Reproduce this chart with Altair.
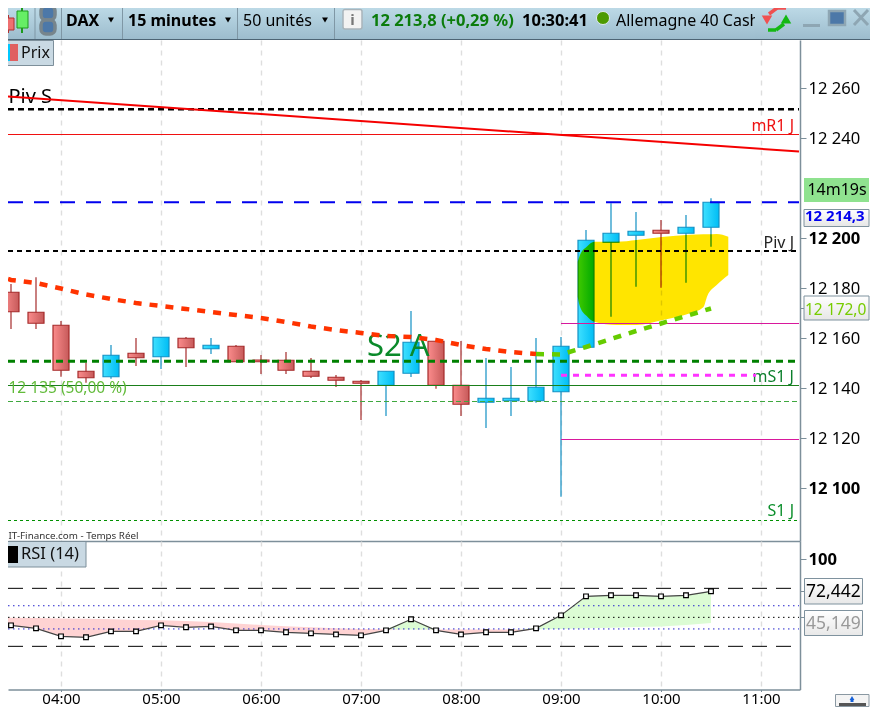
import altair as alt
import pandas as pd

FONT = "Noto Sans"

# ---- price panel data -------------------------------------------------
times = [3.5, 3.75, 4.0, 4.25, 4.5, 4.75, 5.0, 5.25, 5.5, 5.75, 6.0, 6.25, 6.5, 6.75, 7.0,
         7.25, 7.5, 7.75, 8.0, 8.25, 8.5, 8.75, 9.0, 9.25, 9.5, 9.75, 10.0, 10.25, 10.5]
body_top = [12178.3, 12170.3, 12165.1, 12146.7, 12153.1, 12153.9, 12160.3, 12159.9, 12157.1, 12156.7,
            12151.2, 12151.1, 12146.7, 12144.3, 12142.7, 12146.7, 12158.3, 12158.7, 12141.1, 12135.9,
            12135.9, 12140.3, 12156.7, 12199.1, 12201.9, 12202.7, 12203.1, 12204.3, 12214.3]
body_bot = [12170.5, 12165.9, 12147.1, 12144.1, 12144.5, 12152.1, 12152.5, 12156.1, 12155.7, 12150.5,
            12150.5, 12147.1, 12144.7, 12143.1, 12141.9, 12141.1, 12145.9, 12141.1, 12133.5, 12134.3,
            12134.9, 12134.9, 12138.5, 12156.3, 12198.3, 12201.1, 12201.9, 12201.9, 12204.3]
wick_high = [12181.6, 12184.3, 12166.8, 12150.1, 12157.2, 12160.0, 12160.3, 12160.4, 12160.0, 12157.2,
             12153.2, 12154.4, 12152.0, 12145.2, 12143.2, 12146.7, 12170.8, 12158.7, 12158.8, 12152.0,
             12148.4, 12160.0, 12160.4, 12203.2, 12213.9, 12210.4, 12207.2, 12209.2, 12215.9]
wick_low = [12163.6, 12163.6, 12144.5, 12142.1, 12143.7, 12148.8, 12147.6, 12148.4, 12153.6, 12150.5,
            12145.6, 12145.6, 12144.0, 12140.4, 12127.2, 12128.8, 12144.4, 12139.7, 12128.8, 12124.0,
            12128.8, 12134.1, 12096.5, 12156.3, 12168.5, 12180.5, 12180.1, 12182.1, 12196.5]
direction = ["d", "d", "d", "d", "u", "d", "u", "d", "u", "d", "d", "d", "d", "d", "d",
             "u", "u", "d", "d", "u", "u", "u", "u", "u", "u", "u", "d", "u", "u"]

ma_red_t = [3.47, 3.5, 3.75, 4.0, 4.25, 4.5, 4.75, 5.0, 5.25, 5.5, 5.75, 6.0, 6.25, 6.5, 6.75, 7.0,
            7.25, 7.5, 7.75, 8.0, 8.25, 8.5, 8.75]
ma_red_v = [12183.6, 12183.2, 12182.0, 12179.8, 12177.4, 12175.6, 12174.0, 12172.8, 12171.6, 12170.4,
            12169.2, 12168.0, 12166.4, 12164.6, 12163.2, 12162.0, 12160.8, 12160.4, 12159.2, 12157.2,
            12155.6, 12154.4, 12153.6]
ma_green_t = [8.75, 9.0, 9.25, 9.5, 9.75, 10.0, 10.25, 10.5]
ma_green_v = [12153.6, 12153.4, 12156.4, 12159.6, 12162.8, 12165.8, 12168.8, 12171.8]

blob_t = [9.167, 9.19, 9.257, 9.333, 9.557, 9.757, 10.007, 10.29, 10.423, 10.463, 10.557, 10.673]
blob_hi = [12190.5, 12193.2, 12196.5, 12198.5, 12198.5, 12199.2, 12200.4, 12201.3, 12201.5, 12201.5,
           12201.6, 12200.5]
blob_lo = [12176.5, 12172.5, 12168.8, 12166.5, 12165.2, 12165.2, 12167.1, 12169.9, 12172.3, 12176.8,
           12181.2, 12185.2]

trend_t = [3.47, 11.38]
trend_v = [12256.6, 12234.6]

price_ticks = [12260, 12240, 12200, 12180, 12172, 12160, 12140, 12120, 12100]
hours = [4, 5, 6, 7, 8, 9, 10, 11]

# ---- RSI panel data ---------------------------------------------------
rsi_t = [3.47] + times
rsi_v = [45.1, 43.1, 40.5, 33.6, 32.8, 37.9, 37.9, 43.1, 41.4, 42.2, 38.8, 38.8, 37.1, 36.2, 35.3, 34.5,
         38.8, 48.3, 38.8, 35.3, 37.1, 37.1, 40.5, 51.7, 68.1, 69.0, 69.0, 68.1, 69.0, 72.442]
rsi_ma = [49.7, 49.7, 49.4, 49.1, 48.7, 48.3, 47.8, 47.4, 46.8, 45.9, 44.7, 43.4, 42.3, 41.4, 40.6, 39.9,
          39.7, 39.5, 39.5, 39.5, 39.5, 39.5, 39.7, 39.9, 40.5, 41.0, 41.6, 42.2, 43.5, 45.149]

candles = pd.DataFrame({"t": times, "top": body_top, "bot": body_bot, "hi": wick_high,
                        "lo": wick_low, "dir": direction})
rsi = pd.DataFrame({"t": rsi_t, "v": rsi_v, "ma": rsi_ma})
rsi["lo_pink"] = rsi[["v", "ma"]].min(axis=1)
rsi["hi_green"] = rsi[["v", "ma"]].max(axis=1)

xs = alt.Scale(domain=[3.47, 11.39], nice=False, zero=False, padding=0)
ys = alt.Scale(domain=[12078.8, 12279.2], nice=False, zero=False, padding=0)
rs = alt.Scale(domain=[-12.2, 115.8], nice=False, zero=False, padding=0)
AXC = "#7d8f9a"
GRID = dict(grid=True, gridColor="#dedede", gridDash=[5, 5], gridWidth=1.4)

x_axis_main = alt.Axis(values=hours, labels=False, ticks=False, title=None, domain=True, domainColor=AXC,
                       domainWidth=1.5, **GRID)
y_axis_main = alt.Axis(values=price_ticks, orient="right", title=None, grid=False, domainColor=AXC,
                       domainWidth=1.5, tickColor=AXC, tickSize=6, labelFont=FONT, labelFontSize=16.6,
                       labelColor="black", labelPadding=2,
                       labelFontWeight={"condition": {"test": "datum.value==12200||datum.value==12100",
                                                      "value": "bold"}, "value": "normal"},
                       labelExpr="datum.value==12172?'':replace(format(datum.value,','),',',' ')")
x_axis_rsi = alt.Axis(values=hours, title=None, domainColor=AXC, domainWidth=1.5, tickColor=AXC, tickSize=2,
                      labelFont=FONT, labelFontSize=15, labelColor="black", labelPadding=0,
                      labelExpr="(datum.value<10?'0':'')+datum.value+':00'", **GRID)
y_axis_rsi = alt.Axis(values=[100, 72.442, 50], orient="right", title=None, grid=False, domainColor=AXC,
                      domainWidth=1.5, tickColor=AXC, tickSize=6, labelFont=FONT, labelFontSize=16.6,
                      labelFontWeight="bold", labelColor="black", labelPadding=2,
                      labelExpr="datum.value==100?'100':''")

X = alt.X("t:Q", scale=xs, axis=x_axis_main)
Y = lambda f: alt.Y(f"{f}:Q", scale=ys, axis=y_axis_main)
XR = alt.X("t:Q", scale=xs, axis=x_axis_rsi)
R = lambda f: alt.Y(f"{f}:Q", scale=rs, axis=y_axis_rsi)


def box(x1, y1, x2, y2, top, fill=None, stroke=None, sw=1, radius=0, clip=True):
    kw = {}
    if fill is not None:
        kw["fill"] = fill
    if stroke is not None:
        kw["stroke"] = stroke
        kw["strokeWidth"] = sw
    if radius:
        kw["cornerRadius"] = radius
    return alt.Chart().mark_rect(clip=clip, **kw).encode(
        x=alt.value(x1 - 8), x2=alt.value(x2 - 8), y=alt.value(y1 - top), y2=alt.value(y2 - top))


def txt(s, x, y, top, size=15, color="black", weight="normal", align="left", **kw):
    return alt.Chart().mark_text(text=s, font=FONT, fontSize=size, color=color, fontWeight=weight,
                                 align=align, baseline="middle", **kw).encode(
        x=alt.value(x - 8), y=alt.value(y - top))


def seg(x1, y1, x2, y2, top, color, w=1, clip=True):
    return alt.Chart().mark_rule(color=color, strokeWidth=w, clip=clip).encode(
        x=alt.value(x1 - 8), x2=alt.value(x2 - 8), y=alt.value(y1 - top), y2=alt.value(y2 - top))


def tri(shape, x, y, top, color, size=45, clip=True):
    return alt.Chart().mark_point(shape=shape, filled=True, color=color, size=size, opacity=1,
                                  clip=clip).encode(x=alt.value(x - 8), y=alt.value(y - top))


def hline(price, t1, t2, color, w=1, dash=None):
    kw = {"strokeDash": dash} if dash else {}
    return alt.Chart(pd.DataFrame({"t": [t1], "t2": [t2], "p": [price]})).mark_rule(
        color=color, strokeWidth=w, clip=True, **kw).encode(x=X, x2="t2:Q", y=Y("p"))


def line(ts, vs, color, w, dash=None):
    kw = {"strokeDash": dash} if dash else {}
    return alt.Chart(pd.DataFrame({"t": ts, "p": vs})).mark_line(
        color=color, strokeWidth=w, clip=True, **kw).encode(x=X, y=Y("p"))


grad = lambda a, b: alt.LinearGradient(gradient="linear", x1=0, x2=1, y1=0, y2=0,
                                       stops=[alt.GradientStop(offset=0, color=a),
                                              alt.GradientStop(offset=1, color=b)])
vgrad = lambda a, b: alt.LinearGradient(gradient="linear", x1=0, x2=0, y1=0, y2=1,
                                        stops=[alt.GradientStop(offset=0, color=a),
                                               alt.GradientStop(offset=1, color=b)])

# ---- toolbar ----------------------------------------------------------
T = 8
bar_fill = vgrad("#bcd9e6", "#9cbccd")
toolbar_layers = [
    box(8, 8, 870, 39.5, T, fill=bar_fill),
    seg(8, 39.5, 870, 39.5, T, "#4d6575", 1.2),
    # candle icon
    seg(8, 15, 8, 33, T, "#b03030", 2),
    box(2, 18, 14, 30, T, fill="#ee7070", stroke="#b03030"),
    seg(22, 5, 22, 33, T, "#1c9a1c", 2),
    box(17, 11, 28, 28, T, fill="#66ee66", stroke="#1c9a1c"),
    box(41, 6, 55, 20, T, stroke="#77858c", sw=3.5, radius=5),
    box(41, 20, 55, 34, T, stroke="#77858c", sw=3.5, radius=5),
    seg(35, 0, 35, 39, T, "#7f97a5"),
    seg(61.5, 0, 61.5, 39, T, "#7f97a5"),
    seg(122.5, 0, 122.5, 39, T, "#7f97a5"),
    seg(237.5, 0, 237.5, 39, T, "#7f97a5"),
    seg(334.5, 0, 334.5, 39, T, "#7f97a5"),
    txt("DAX", 66, 20.7, T, 16, weight="bold"),
    tri("triangle-down", 111, 20, T, "black", 35),
    txt("15 minutes", 128, 20.7, T, 16, weight="bold"),
    tri("triangle-down", 228, 20, T, "black", 35),
    txt("50 unités", 243, 20.7, T, 16),
    tri("triangle-down", 325, 20, T, "black", 35),
    box(343, 9.5, 362, 29, T, fill="#f2f2f2", stroke="#a9b4ba", sw=1.5, radius=2),
    txt("i", 352.5, 20, T, 15, color="#777777", weight="bold", align="center"),
    txt("12 213,8 (+0,29 %)", 371, 20.9, T, 16.5, color="#0c7c0c", weight="bold"),
    txt("10:30:41", 522, 20.9, T, 16.5, weight="bold"),
    alt.Chart().mark_point(shape="circle", filled=True, fill="#4c9a00", stroke="#dfe9ee", strokeWidth=1,
                           size=170, opacity=1, clip=True).encode(x=alt.value(603 - 8), y=alt.value(18 - T)),
    txt("Allemagne 40 Cash", 616, 20.7, T, 16),
    box(755, 8, 800, 38.9, T, fill=bar_fill),
    seg(769, 14, 777, 8, T, "#f05050", 3.5),
    seg(777, 8, 786, 8, T, "#f05050", 3.5),
    tri("triangle-down", 767, 20, T, "#f05050", 110),
    seg(784, 24, 776, 30, T, "#14b814", 3.5),
    seg(776, 30, 768, 30, T, "#14b814", 3.5),
    tri("triangle-up", 786, 19, T, "#14b814", 110),
    seg(803, 25.5, 820, 25.5, T, "#8ea6b3", 3),
    box(829, 11, 845, 25, T, stroke="#8ea6b3", sw=2.5),
    seg(854, 10, 868, 25, T, "#8ea6b3", 3),
    seg(854, 25, 868, 10, T, "#8ea6b3", 3),
]
toolbar = alt.layer(*toolbar_layers).properties(width=862, height=32)

# ---- price panel ------------------------------------------------------
M = 40
up = alt.Chart(candles).transform_filter("datum.dir=='u'")
dn = alt.Chart(candles).transform_filter("datum.dir=='d'")
w_up = up.mark_rule(color="#1290c4", strokeWidth=1.2, clip=True).encode(x=X, y=Y("hi"), y2="lo:Q")
w_dn = dn.mark_rule(color="#a52a2a", strokeWidth=1.2, clip=True).encode(x=X, y=Y("hi"), y2="lo:Q")
b_up = up.mark_bar(size=16, fill=grad("#3fe0ff", "#00bdf5"), stroke="#1290c4", strokeWidth=1.2,
                   orient="vertical", clip=True).encode(x=X, y=Y("top"), y2="bot:Q")
b_dn = dn.mark_bar(size=16, fill=grad("#fb8c8c", "#c65a5a"), stroke="#a52a2a", strokeWidth=1.2,
                   orient="vertical", clip=True).encode(x=X, y=Y("top"), y2="bot:Q")
blob = alt.Chart(pd.DataFrame({"t": blob_t, "hi": blob_hi, "lo": blob_lo})).mark_area(
    color="#ffe500", blend="multiply", interpolate="monotone", opacity=1).encode(
    x=X, y=Y("hi"), y2="lo:Q")

main_layers = [
    txt("Piv S", 8.5, 97, M, 20),
    w_up, w_dn, b_up, b_dn, blob,
    hline(12251.5, 3.47, 11.38, "black", 2.4, [6, 4]),
    hline(12241.4, 3.47, 11.38, "#f01010", 1),
    hline(12214.3, 3.47, 11.38, "#0000ee", 2, [15, 11]),
    hline(12194.8, 3.47, 11.38, "black", 1.8, [5, 4]),
    hline(12165.8, 9.0, 11.38, "#d8189c", 1),
    hline(12119.4, 9.0, 11.38, "#d8189c", 1),
    hline(12150.7, 3.47, 11.36, "#008000", 3, [7, 5]),
    hline(12141.0, 3.47, 11.38, "#1a7f1a", 1),
    hline(12134.6, 3.47, 11.38, "#3fa83f", 1, [5, 3]),
    hline(12087.0, 3.47, 11.38, "#009000", 1, [3, 3]),
    txt("S2 A", 367, 347, M, 31, color="#0a8a2a"),
    txt("mR1 J", 794, 126, M, 16, color="#ee1111", align="right"),
    txt("Piv J", 794, 243, M, 16, color="#222222", align="right"),
    txt("mS1 J", 794, 377, M, 16, color="#0c7f2c", align="right"),
    txt("S1 J", 794, 511, M, 16, color="#0c8f2c", align="right"),
    txt("12 135 (50,00 %)", 8.5, 388, M, 15.5, color="#62bb3a"),
    txt("IT-Finance.com - Temps Réel", 8.5, 536, M, 9.8, color="#333333"),
    hline(12145.1, 9.0, 10.95, "#ff33ff", 3, [6, 6]),
    line(ma_red_t, ma_red_v, "#ff3300", 4.5, [8, 8]),
    line(ma_green_t, ma_green_v, "#66cc00", 4.5, [8, 8]),
    line(trend_t, trend_v, "#f50000", 2),
    # legend
    box(0, 40.5, 53.5, 65.5, M, fill="#c9d9e3", stroke="#7d8f9a"),
    box(1, 44, 10, 61, M, fill="#00c8ff"),
    box(10, 44, 18, 61, M, fill="#e06060"),
    txt("Prix", 21, 52.5, M, 16, color="#111111"),
    # right-hand value boxes
    box(804, 178, 869, 202, M, fill="#8fe28f", clip=False),
    txt("14m19s", 837, 190, M, 16, align="center"),
    box(804, 209.5, 869, 226.5, M, fill=vgrad("#ffffff", "#e6e6e6"), stroke="#7f929e", clip=False),
    txt("12 214,3", 805, 216, M, 15, color="#0000ee", weight="bold"),
    box(804, 296, 869, 320, M, fill=vgrad("#ffffff", "#e6e6e6"), stroke="#7f929e", clip=False),
    txt("12 172,0", 805, 310, M, 15.5, color="#77cc00"),
]
main = alt.layer(*main_layers).properties(width=792, height=501)

# ---- RSI panel --------------------------------------------------------
S = 541


def rline(v, color, dash, w=1):
    return alt.Chart(pd.DataFrame({"t": [3.47], "t2": [11.38], "p": [v]})).mark_rule(
        color=color, strokeDash=dash, strokeWidth=w, clip=True).encode(x=XR, x2="t2:Q", y=R("p"))


pink = alt.Chart(rsi).mark_area(color="#ffd3d3", clip=True).encode(x=XR, y=R("lo_pink"), y2="ma:Q")
green = alt.Chart(rsi).mark_area(color="#dcfcd4", clip=True).encode(x=XR, y=R("hi_green"), y2="ma:Q")
rsi_line = alt.Chart(rsi).mark_line(color="#444444", strokeWidth=1.2, clip=True).encode(x=XR, y=R("v"))
rsi_pts = alt.Chart(rsi).transform_filter("datum.t>=3.5").mark_square(
    size=22, fill="white", stroke="black", strokeWidth=1.2, opacity=1, clip=True).encode(x=XR, y=R("v"))

rsi_layers = [
    pink, green,
    rline(75, "black", [15, 9]), rline(25, "black", [15, 9]),
    rline(60, "#2222cc", [1.5, 3.5]), rline(40, "#2222cc", [1.5, 3.5]), rline(50, "black", [1.5, 3.5]),
    rsi_line, rsi_pts,
    box(0, 541.5, 86, 567, S, fill="#c9d9e3", stroke="#7d8f9a"),
    box(1, 546, 18, 563, S, fill="black"),
    txt("RSI (14)", 21, 554, S, 16.5, color="#111111"),
    box(804.5, 578.5, 862.5, 604, S, fill=vgrad("#ffffff", "#e8e8e8"), stroke="#7f929e", clip=False),
    txt("72,442", 806, 592, S, 17.5),
    box(804.5, 610.5, 862.5, 635.5, S, fill=vgrad("#ffffff", "#e8e8e8"), stroke="#7f929e", clip=False),
    txt("45,149", 806, 624, S, 17.5, color="#999999"),
    # bottom-right button
    box(835.5, 694.5, 869, 706.5, S, fill="#f4f4f4", stroke="#8a98a2", clip=False),
    tri("triangle-up", 852, 698, S, "#1560d8", 22, clip=False),
    seg(852, 699, 852, 702, S, "#1560d8", 3, clip=False),
    box(839, 703, 866, 706, S, fill="#555555", clip=False),
]
rsi_panel = alt.layer(*rsi_layers).properties(width=792, height=148.5)

chart = alt.vconcat(toolbar, main, rsi_panel, spacing=0, bounds="flush").properties(
    padding={"left": 0, "top": 0, "right": 0, "bottom": 1}).configure_view(
    stroke=None).configure_concat(spacing=0)

chart.save("out.html", embed_options={"renderer": "svg", "actions": False})
